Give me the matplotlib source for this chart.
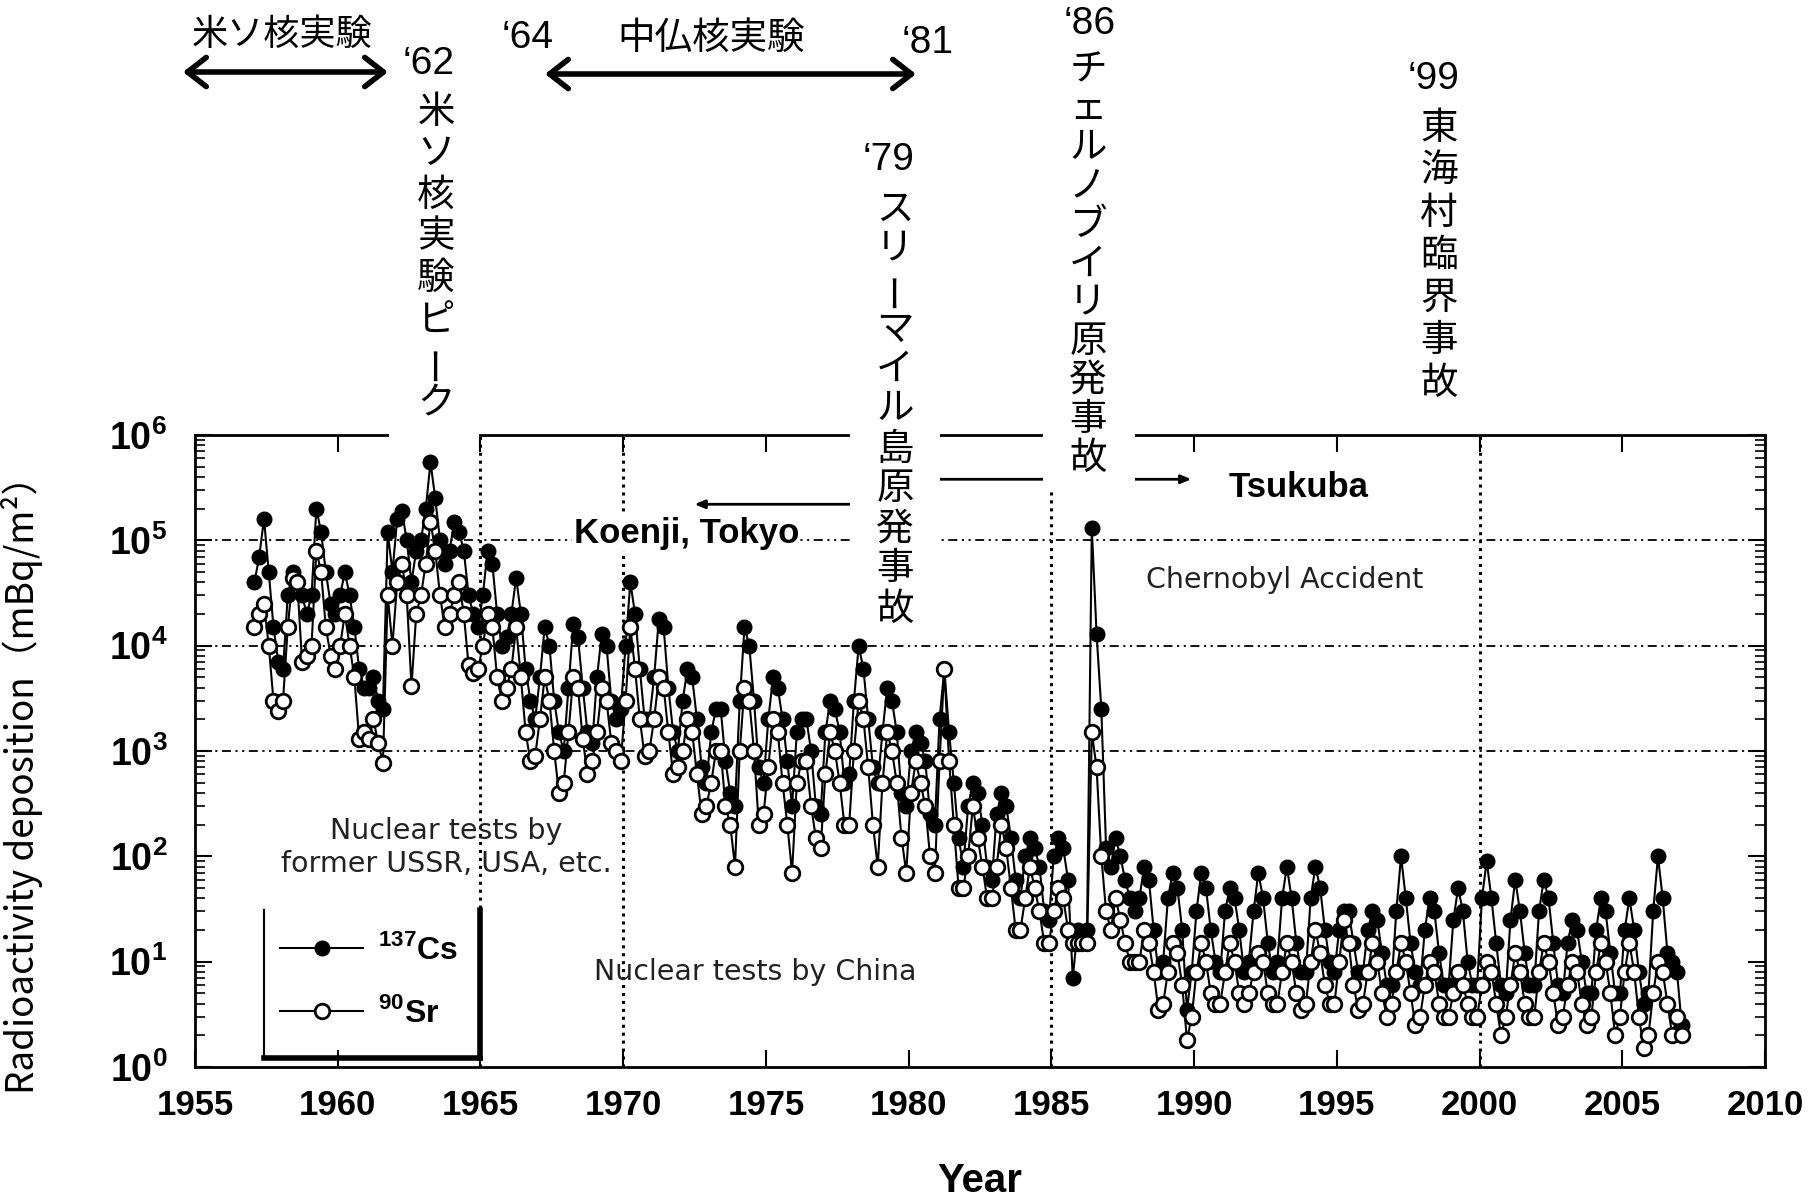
import numpy as np
import matplotlib
matplotlib.use('Agg')
import matplotlib.pyplot as plt
from matplotlib.patches import Rectangle
from matplotlib.lines import Line2D
from matplotlib.ticker import LogLocator, NullFormatter

plt.rcParams['font.family'] = ['Liberation Sans', 'DejaVu Sans']
plt.rcParams['mathtext.fontset'] = 'custom'
plt.rcParams['mathtext.rm'] = 'Liberation Sans:bold'
plt.rcParams['mathtext.bf'] = 'Liberation Sans:bold'

W, H = 1818, 1203
JP = ['Noto Sans CJK JP', 'DejaVu Sans']

# bi-monthly deposition (mBq/m2), Jan 1957 onwards, six values per year
start_year = 1957
cs137 = [
    4e4, 7e4, 1.6e5, 5e4, 1.5e4, 7e3,        # 1957
    6e3, 3e4, 5e4, 4e4, 3e4, 2e4,            # 1958
    3e4, 2e5, 1.2e5, 5e4, 2.5e4, 2e4,        # 1959
    3e4, 5e4, 3e4, 1.5e4, 6e3, 4e3,          # 1960
    4e3, 5e3, 3e3, 2.5e3, 1.2e5, 5e4,        # 1961
    1.6e5, 1.9e5, 1e5, 4e4, 8e4, 1e5,        # 1962
    2e5, 5.5e5, 2.5e5, 1e5, 6e4, 8e4,        # 1963
    1.5e5, 1.2e5, 8e4, 3e4, 2e4, 1.5e4,      # 1964
    3e4, 8e4, 6e4, 2e4, 1e4, 1.2e4,          # 1965
    2e4, 4.4e4, 2e4, 6e3, 3e3, 2e3,          # 1966
    5e3, 1.5e4, 1e4, 3e3, 1.5e3, 1e3,        # 1967
    4e3, 1.6e4, 1.2e4, 4e3, 1.5e3, 1.2e3,    # 1968
    5e3, 1.3e4, 1e4, 3e3, 2e3, 2.5e3,        # 1969
    1e4, 4e4, 2e4, 6e3, 2e3, 2e3,            # 1970
    5e3, 1.8e4, 1.5e4, 4e3, 1.5e3, 1e3,      # 1971
    3e3, 6e3, 5e3, 2e3, 700, 500,            # 1972
    1.5e3, 2.5e3, 2.5e3, 800, 400, 300,      # 1973
    3e3, 1.5e4, 1e4, 3e3, 700, 500,          # 1974
    2e3, 5e3, 4e3, 2e3, 800, 300,            # 1975
    1.5e3, 2e3, 2e3, 1e3, 300, 250,          # 1976
    1.5e3, 3e3, 2.5e3, 1.5e3, 500, 600,      # 1977
    3e3, 1e4, 6e3, 2e3, 700, 500,            # 1978
    1.5e3, 4e3, 3e3, 1.5e3, 400, 300,        # 1979
    1e3, 1.5e3, 1.2e3, 800, 250, 200,        # 1980
    2e3, 6e3, 1.5e3, 500, 150, 80,           # 1981
    300, 500, 400, 200, 80, 60,              # 1982
    250, 400, 300, 150, 60, 40,              # 1983
    100, 150, 120, 80, 30, 25,               # 1984
    100, 150, 120, 60, 7, 20,                # 1985
    15, 20, 1.3e5, 1.3e4, 2.5e3, 120,        # 1986
    80, 150, 100, 60, 40, 30,                # 1987
    40, 80, 60, 20, 8, 10,                   # 1988
    40, 70, 50, 20, 3.5, 8,                  # 1989
    30, 70, 50, 20, 10, 8,                   # 1990
    30, 50, 40, 20, 8, 10,                   # 1991
    30, 70, 40, 15, 8, 10,                   # 1992
    40, 80, 40, 15, 8, 8,                    # 1993
    40, 80, 50, 20, 10, 8,                   # 1994
    20, 30, 30, 15, 8, 8,                    # 1995
    20, 30, 25, 12, 6, 6,                    # 1996
    30, 100, 40, 15, 8, 6,                   # 1997
    20, 40, 30, 12, 6, 6,                    # 1998
    25, 50, 30, 10, 6, 6,                    # 1999
    40, 90, 40, 15, 6, 5,                    # 2000
    25, 60, 30, 12, 6, 6,                    # 2001
    30, 60, 40, 15, 6, 5,                    # 2002
    15, 25, 20, 10, 5, 5,                    # 2003
    20, 40, 30, 12, 5, 5,                    # 2004
    20, 40, 20, 8, 4, 5,                     # 2005
    30, 100, 40, 12, 10, 8,                  # 2006
    2.5,                                     # 2007
]
sr90 = [
    1.5e4, 2e4, 2.5e4, 1e4, 3e3, 2.4e3,      # 1957
    3e3, 1.5e4, 4.4e4, 4e4, 7e3, 8e3,        # 1958
    1e4, 8e4, 5e4, 1.5e4, 8e3, 6e3,          # 1959
    1e4, 2e4, 1e4, 5e3, 1.3e3, 1.5e3,        # 1960
    1.3e3, 2e3, 1.2e3, 770, 3e4, 1e4,        # 1961
    4e4, 6e4, 3e4, 4.1e3, 2e4, 3e4,          # 1962
    6e4, 1.5e5, 8e4, 3e4, 1.5e4, 2e4,        # 1963
    3e4, 4e4, 2e4, 6.5e3, 5.5e3, 6e3,        # 1964
    1e4, 2e4, 1.5e4, 5e3, 3e3, 4e3,          # 1965
    6e3, 1.5e4, 5e3, 1.5e3, 800, 900,        # 1966
    2e3, 5e3, 3e3, 1e3, 400, 500,            # 1967
    1.5e3, 5e3, 4e3, 1.3e3, 600, 800,        # 1968
    1.5e3, 4e3, 3e3, 1.2e3, 1e3, 800,        # 1969
    3e3, 1.5e4, 6e3, 2e3, 900, 1e3,          # 1970
    2e3, 5e3, 4e3, 1.5e3, 600, 700,          # 1971
    1e3, 2e3, 1.5e3, 600, 250, 300,          # 1972
    500, 1e3, 1e3, 300, 200, 80,             # 1973
    1e3, 4e3, 3e3, 1e3, 200, 250,            # 1974
    700, 2e3, 1.5e3, 500, 200, 70,           # 1975
    500, 800, 800, 300, 150, 120,            # 1976
    600, 1.5e3, 1e3, 500, 200, 200,          # 1977
    1e3, 3e3, 2e3, 700, 200, 80,             # 1978
    500, 1.5e3, 1e3, 500, 150, 70,           # 1979
    400, 800, 500, 300, 100, 70,             # 1980
    800, 6e3, 800, 200, 50, 50,              # 1981
    100, 300, 150, 80, 40, 40,               # 1982
    80, 200, 120, 50, 20, 20,                # 1983
    40, 80, 50, 30, 15, 15,                  # 1984
    30, 50, 40, 20, 15, 15,                  # 1985
    15, 15, 1.5e3, 700, 100, 30,             # 1986
    20, 40, 25, 15, 10, 10,                  # 1987
    10, 20, 15, 8, 3.5, 4,                   # 1988
    8, 15, 12, 6, 1.8, 3,                    # 1989
    8, 15, 10, 5, 4, 4,                      # 1990
    8, 15, 10, 5, 4, 5,                      # 1991
    8, 12, 10, 5, 4, 4,                      # 1992
    8, 15, 10, 5, 3.5, 4,                    # 1993
    10, 20, 12, 6, 4, 4,                     # 1994
    10, 25, 15, 6, 3.5, 4,                   # 1995
    8, 15, 10, 5, 3, 4,                      # 1996
    8, 15, 10, 5, 2.5, 3,                    # 1997
    6, 10, 8, 4, 3, 3,                       # 1998
    5, 8, 6, 4, 3, 3,                        # 1999
    6, 10, 8, 4, 2, 3,                       # 2000
    6, 12, 8, 4, 3, 3,                       # 2001
    8, 15, 10, 5, 2.5, 3,                    # 2002
    6, 10, 8, 4, 2.5, 3,                     # 2003
    8, 15, 10, 5, 2, 3,                      # 2004
    8, 15, 8, 3, 1.5, 2,                     # 2005
    5, 10, 8, 4, 2, 3,                       # 2006
    2,                                       # 2007
]
dates = start_year + (np.arange(len(cs137)) + 0.5) / 6

grid_years = [1965, 1970, 1985, 2000]
grid_levels = [1e3, 1e4, 1e5]
koenji_span = (1980, 1972.4)
tsukuba_span = (1980, 1990)
site_level = (2.2e5, 3.8e5)

fig = plt.figure(figsize=(W / 100, H / 100), dpi=100)
ax = fig.add_axes([195 / W, 1 - 1067 / H, 1570 / W, 632 / H])
ax.set_yscale('log')
ax.set_xlim(1955, 2010)
ax.set_ylim(1, 1e6)

for lv in grid_levels:
    ax.axhline(lv, color='k', lw=1.3, ls=(0, (5, 2.5, 1.2, 2.5, 1.2, 2.5)), zorder=1)
for yr in grid_years:
    ax.axvline(yr, color='k', lw=2.2, ls=(0, (1, 1.6)), zorder=1)

ax.plot(dates, cs137, '-o', color='k', lw=1.5, ms=10.5, mfc='k', mec='k', zorder=3)
ax.plot(dates, sr90, '-o', color='k', lw=1.5, ms=10.5, mfc='white', mec='k', mew=2, zorder=4)

# ticks
ax.set_xticks(range(1955, 2011, 5))
ax.set_xticklabels([str(y) for y in range(1955, 2011, 5)], fontweight='bold')
ax.tick_params(axis='x', direction='in', top=True, length=12, width=1.5, labelsize=25, pad=16)
ax.set_yticks([10.0 ** k for k in range(7)])
ax.set_yticklabels([rf'$\mathbf{{10^{{{k}}}}}$' for k in range(7)])
ax.yaxis.set_minor_locator(LogLocator(base=10, subs=np.arange(2, 10), numticks=20))
ax.yaxis.set_minor_formatter(NullFormatter())
ax.tick_params(axis='y', which='major', direction='in', right=True, length=12, width=1.5, labelsize=27, pad=20)
ax.tick_params(axis='y', which='minor', direction='in', right=True, length=7, width=1.2)
for sp in ax.spines.values():
    sp.set_linewidth(2)

ax.set_xlabel('Year', fontsize=29, fontweight='bold', va='top')
ax.xaxis.set_label_coords(0.5, -0.150)
ax.set_ylabel('Radioactivity deposition（mBq/m²）', family=JP, fontsize=26.5)
ax.yaxis.set_label_coords(-0.097, 0.46)

# site arrows
ax.annotate('', xy=(koenji_span[1], site_level[0]), xytext=(koenji_span[0], site_level[0]),
            arrowprops=dict(arrowstyle='-|>,head_length=0.6,head_width=0.25', lw=2, color='k'))
ax.annotate('', xy=(tsukuba_span[1], site_level[1]), xytext=(tsukuba_span[0], site_level[1]),
            arrowprops=dict(arrowstyle='-|>,head_length=0.6,head_width=0.25', lw=2, color='k'))
ax.text(0.313, 0.844, 'Koenji, Tokyo', transform=ax.transAxes, ha='center', va='center',
        fontsize=25, fontweight='bold',
        bbox=dict(facecolor='white', edgecolor='none', pad=1), zorder=5)
ax.text(0.703, 0.917, 'Tsukuba', transform=ax.transAxes, ha='center', va='center',
        fontsize=25, fontweight='bold', zorder=5)

note = dict(transform=ax.transAxes, ha='center', va='center', fontsize=20.5,
            family='DejaVu Sans', color='#222222', zorder=5)
ax.text(0.160, 0.347, 'Nuclear tests by\nformer USSR, USA, etc.', linespacing=1.2, **note)
ax.text(0.357, 0.150, 'Nuclear tests by China', **note)
ax.text(0.694, 0.771, 'Chernobyl Accident', **note)

# legend
handles = [Line2D([], [], color='k', lw=1.5, marker='o', ms=10.5, mfc='k', mec='k'),
           Line2D([], [], color='k', lw=1.5, marker='o', ms=10.5, mfc='white', mec='k', mew=2)]
ax.legend(handles, [r'$^{137}$Cs', r'$^{90}$Sr'], loc='lower left', bbox_to_anchor=(0.036, 0.015),
          frameon=False, handlelength=2.6, handletextpad=0.45, labelspacing=0.95,
          prop={'weight': 'bold', 'size': 23})
ax.plot([0.044, 0.044], [0.015, 0.248], transform=ax.transAxes, color='k', lw=1.5, zorder=6)
ax.plot([0.1818, 0.1818], [0.015, 0.248], transform=ax.transAxes, color='k', lw=4, zorder=6)
ax.plot([0.044, 0.1818], [0.015, 0.015], transform=ax.transAxes, color='k', lw=4, zorder=6)

# white panels behind the vertical Japanese captions
for x0, x1, y0, y1 in [(389, 479, 90, 440), (850, 940, 110, 635), (1043, 1135, 0, 490)]:
    fig.add_artist(Rectangle((x0 / W, 1 - y1 / H), (x1 - x0) / W, (y1 - y0) / H,
                             transform=fig.transFigure, facecolor='white', edgecolor='none', zorder=2))


def ftext(x, y, s, size=27, family=JP, **kw):
    fig.text(x / W, 1 - y / H, s, ha='center', va='center', fontsize=size, family=family, zorder=5, **kw)


def vtext(x, y0, step, s, size=27):
    for i, ch in enumerate(s):
        ftext(x, y0 + i * step, ch, size=size, rotation=90 if ch == 'ー' else 0)


NUM = ['Liberation Sans', 'DejaVu Sans']
ftext(282, 35, '米ソ核実験', size=26)
ftext(711, 38, '中仏核実験', size=27)
ftext(429, 64, '\u201862', size=28, family=NUM)
ftext(528, 38, '\u201864', size=28, family=NUM)
ftext(928, 43, '\u201881', size=28, family=NUM)
ftext(889, 160, '\u201879', size=28, family=NUM)
ftext(1090, 24, '\u201886', size=28, family=NUM)
ftext(1434, 79, '\u201899', size=28, family=NUM)

vtext(436, 112, 41.7, '米ソ核実験ピーク')
vtext(895, 209, 40, 'スリーマイル島原発事故')
vtext(1088, 70, 38.8, 'チェルノブイリ原発事故')
vtext(1439, 128, 42.5, '東海村臨界事故')

for xa, xb, y in [(183, 388, 72), (545, 916, 74)]:
    ax.annotate('', xy=(xa, H - y), xytext=(xb, H - y), xycoords='figure pixels',
                textcoords='figure pixels',
                arrowprops=dict(arrowstyle='<->,head_length=0.45,head_width=0.35', lw=4,
                                color='k', mutation_scale=30, shrinkA=0, shrinkB=0))

fig.savefig('out.png', dpi=100)
